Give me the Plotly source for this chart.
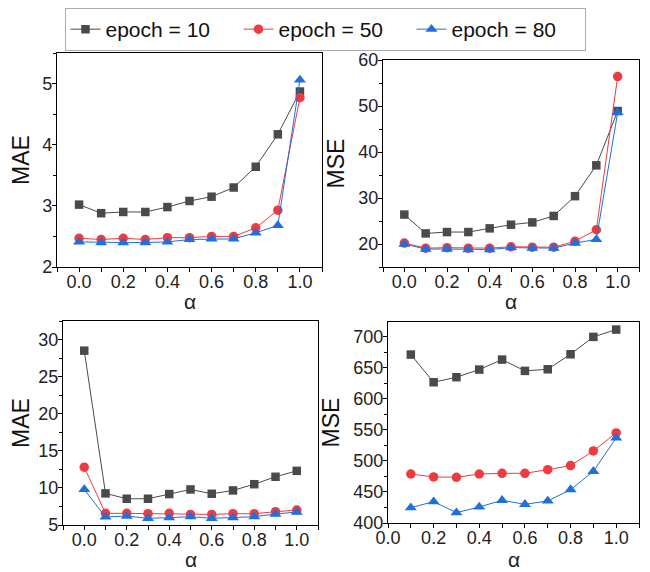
import plotly.graph_objects as go

alpha = [0.0, 0.1, 0.2, 0.3, 0.4, 0.5, 0.6, 0.7, 0.8, 0.9, 1.0]
alpha_b = [0.1, 0.2, 0.3, 0.4, 0.5, 0.6, 0.7, 0.8, 0.9, 1.0]

# top-left MAE
mae1_e10 = [3.02, 2.88, 2.90, 2.90, 2.98, 3.08, 3.15, 3.30, 3.64, 4.17, 4.87]
mae1_e50 = [2.47, 2.45, 2.47, 2.45, 2.48, 2.48, 2.50, 2.50, 2.64, 2.93, 4.77]
mae1_e80 = [2.41, 2.40, 2.40, 2.40, 2.41, 2.45, 2.46, 2.46, 2.56, 2.68, 5.06]
# top-right MSE
mse1_e10 = [26.4, 22.3, 22.6, 22.6, 23.4, 24.2, 24.7, 26.1, 30.4, 37.1, 48.9]
mse1_e50 = [20.2, 19.1, 19.2, 19.1, 19.1, 19.4, 19.3, 19.3, 20.6, 23.1, 56.4]
mse1_e80 = [20.0, 18.9, 18.9, 18.8, 18.8, 19.2, 19.1, 19.1, 20.2, 21.0, 48.6]
# bottom-left MAE
mae2_e10 = [28.5, 9.26, 8.54, 8.54, 9.17, 9.79, 9.21, 9.66, 10.5, 11.5, 12.3]
mae2_e50 = [12.8, 6.57, 6.57, 6.52, 6.57, 6.43, 6.43, 6.52, 6.52, 6.79, 7.02]
mae2_e80 = [9.79, 6.08, 6.21, 5.90, 5.99, 6.12, 5.90, 5.99, 6.12, 6.48, 6.75]
# bottom-right MSE
mse2_e10 = [671.5, 626.9, 635.0, 647.3, 663.4, 645.2, 647.8, 672.0, 700.0, 711.8]
mse2_e50 = [479.0, 474.2, 473.7, 479.0, 480.1, 480.1, 486.0, 492.5, 516.1, 545.2]
mse2_e80 = [424.7, 434.4, 416.7, 425.8, 436.6, 430.1, 435.5, 453.8, 483.3, 537.1]

names = ["epoch = 10", "epoch = 50", "epoch = 80"]
colors = ["#4a4a4a", "#ef3b40", "#1f6fdc"]
symbols = ["square", "circle", "triangle-up"]
sizes = [8.5, 9.5, 10.5]

# the page body adds an 8px offset, so the figure is 642x564 placed at (8, 8)
W, H = 642, 564


def dx(a, b):
    return [(a - 8) / W, (b - 8) / W]


def dy(top, bottom):
    return [(572 - bottom) / H, (572 - top) / H]


panels = [
    (alpha, [mae1_e10, mae1_e50, mae1_e80], "MAE", [2, 5.5], 1, [-0.1, 1.1], dx(57, 322), dy(53, 267), 0.5, 302),
    (alpha, [mse1_e10, mse1_e50, mse1_e80], "MSE", [15, 60], 10, [-0.1, 1.1], dx(383, 639), dy(60, 267), 5, 302),
    (alpha, [mae2_e10, mae2_e50, mae2_e80], "MAE", [5, 32.5], 5, [-0.1, 1.1], dx(63, 318), dy(321, 525), 2.5, 559),
    (alpha_b, [mse2_e10, mse2_e50, mse2_e80], "MSE", [400, 724], 50, [0.0, 1.1], dx(388, 639), dy(322, 523), 25, 559),
]

fig = go.Figure()
layout = {}
annotations = []
for i, (xs, series, ylab, yr, ydt, xr, xd, yd, ymin, ay) in enumerate(panels):
    n = "" if i == 0 else str(i + 1)
    for j, ys in enumerate(series):
        fig.add_trace(go.Scatter(
            x=xs, y=ys, mode="lines+markers", name=names[j],
            showlegend=(i == 0),
            line=dict(color=colors[j], width=1),
            marker=dict(symbol=symbols[j], size=sizes[j], color=colors[j]),
            xaxis="x" + n, yaxis="y" + n,
        ))
    layout["xaxis" + n] = dict(
        domain=xd, range=xr, anchor="y" + n, dtick=0.2, tick0=0, tickformat=".1f",
        automargin=False,
        showgrid=False, zeroline=False, showline=True, linecolor="black", linewidth=1.2,
        mirror=True, ticks="outside", ticklen=4, tickcolor="black",
        minor=dict(dtick=0.1, ticks="outside", ticklen=4, tickcolor="black"),
        tickfont=dict(size=18, color="#222"), ticklabelstandoff=-6,
    )
    layout["yaxis" + n] = dict(
        domain=yd, range=yr, anchor="x" + n, dtick=ydt,
        automargin=False,
        showgrid=False, zeroline=False, showline=True, linecolor="black", linewidth=1.2,
        mirror=True, ticks="outside", ticklen=4, tickcolor="black",
        minor=dict(dtick=ymin, ticks="outside", ticklen=3, tickcolor="black"),
        tickfont=dict(size=18, color="#222"), ticklabelstandoff=-4,
        title=dict(text=ylab, font=dict(size=23, color="#111"), standoff=7),
    )
    annotations.append(dict(
        text="α", xref="paper", yref="paper", showarrow=False,
        x=(xd[0] + xd[1]) / 2, y=(572 - ay) / H, xanchor="center", yanchor="middle",
        font=dict(size=21, color="#222"),
    ))

fig.update_layout(
    width=W, height=H,
    margin=dict(l=0, r=0, t=0, b=0, autoexpand=False),
    paper_bgcolor="white", plot_bgcolor="white",
    font=dict(family="Liberation Sans, Arial, sans-serif"),
    legend=dict(orientation="h", x=(325 - 8) / W, xanchor="center", y=1.0, yanchor="top",
                bordercolor="#aaaaaa", borderwidth=1,
                font=dict(size=21, color="#111"), entrywidth=128,
                tracegroupgap=0),
    annotations=annotations,
    **layout,
)

fig.write_html("out.html")
